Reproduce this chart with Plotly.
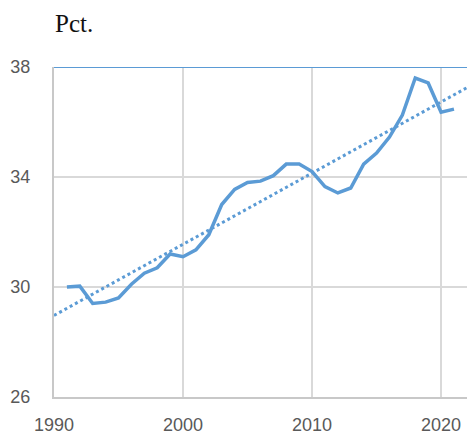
import numpy as np
import plotly.graph_objects as go

years = list(range(1991, 2022))
values = [30.0, 30.03, 29.4, 29.45, 29.6, 30.1, 30.5, 30.7, 31.2, 31.1,
          31.35, 31.9, 33.0, 33.55, 33.8, 33.85, 34.05, 34.47, 34.47, 34.2,
          33.65, 33.42, 33.6, 34.47, 34.87, 35.45, 36.25, 37.6, 37.42, 36.36,
          36.47]
trend_span = [1990, 2022.2]
y_ticks = [26, 30, 34, 38]
x_ticks = [1990, 2000, 2010, 2020]

coef = np.polyfit(years, values, 1)
trend_y = [coef[0] * x + coef[1] for x in trend_span]

color = "#5B9BD5"
fig = go.Figure()
fig.add_trace(go.Scatter(x=trend_span, y=trend_y, mode="lines",
                         line=dict(color=color, width=3, dash="dot"),
                         hoverinfo="skip", showlegend=False))
fig.add_trace(go.Scatter(x=years, y=values, mode="lines",
                         line=dict(color=color, width=3.5),
                         showlegend=False))
fig.add_shape(type="line", xref="paper", x0=0, x1=1, yref="y", y0=38, y1=38,
              line=dict(color=color, width=2), layer="above")

fig.update_layout(
    width=475, height=434,
    margin=dict(l=46, r=0, t=59, b=45, autoexpand=False),
    paper_bgcolor="white", plot_bgcolor="white",
    annotations=[dict(text="Pct.", xref="paper", yref="paper", x=0.0, y=1.0,
                      xanchor="left", yanchor="bottom", yshift=29, xshift=0,
                      showarrow=False, borderpad=0,
                      font=dict(family="Liberation Serif", size=25, color="#111111"))],
    xaxis=dict(range=[1990, 2023.25], tickvals=x_ticks, ticks="",
               showgrid=True, gridcolor="#d9d9d9", gridwidth=2,
               showline=True, linecolor="#c8c8c8", linewidth=2,
               zeroline=False, automargin=False, ticklabelstandoff=10,
               tickfont=dict(family="Liberation Sans", size=18, color="#595959")),
    yaxis=dict(range=[26, 38], tickvals=y_ticks, ticks="",
               showgrid=True, gridcolor="#d9d9d9", gridwidth=2,
               showline=True, linecolor="#c8c8c8", linewidth=2,
               zeroline=False, automargin=False, ticklabelstandoff=18,
               tickfont=dict(family="Liberation Sans", size=18, color="#595959")),
)
fig.write_html("out.html")
